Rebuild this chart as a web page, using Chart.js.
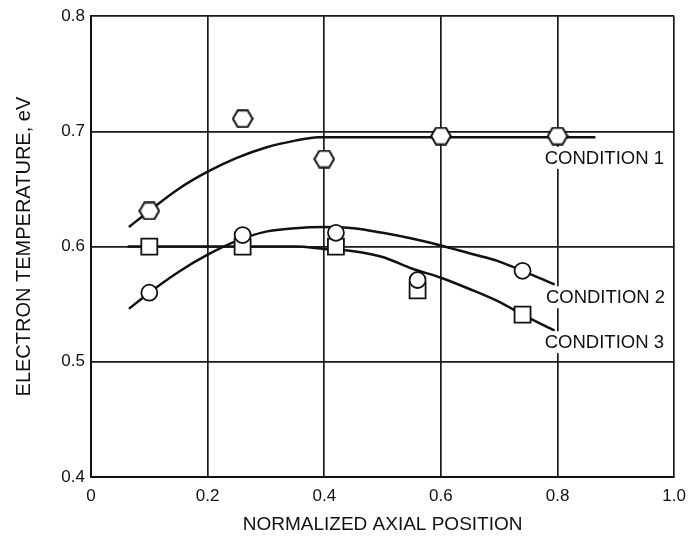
<!DOCTYPE html>
<html>
<head>
<meta charset="utf-8">
<script src="https://cdn.jsdelivr.net/npm/chart.js@4.4.1/dist/chart.umd.min.js"></script>
<style>
  html, body { margin: 0; padding: 0; background: #fff; }
  #wrap { width: 695px; height: 536px; }
</style>
</head>
<body>
<div id="wrap"><canvas id="c" width="695" height="536"></canvas></div>
<script>
// ---- Data ----
const cond1X = [0.10, 0.26, 0.40, 0.60, 0.80];
const cond1Y = [0.631, 0.711, 0.676, 0.696, 0.696];
const cond2X = [0.10, 0.26, 0.42, 0.56, 0.74];
const cond2Y = [0.560, 0.610, 0.612, 0.571, 0.579];
const cond3X = [0.10, 0.26, 0.42, 0.56, 0.74];
const cond3Y = [0.600, 0.600, 0.600, 0.562, 0.541];

// fitted curves drawn in the reference
const fit1X = [0.065, 0.10, 0.15, 0.20, 0.25, 0.30, 0.35, 0.39, 0.50, 0.60, 0.70, 0.865];
const fit1Y = [0.617, 0.631, 0.650, 0.665, 0.677, 0.686, 0.692, 0.695, 0.695, 0.695, 0.695, 0.695];
const fit2X = [0.065, 0.10, 0.15, 0.20, 0.25, 0.30, 0.35, 0.40, 0.45, 0.50, 0.55, 0.60, 0.65, 0.70, 0.74, 0.795];
const fit2Y = [0.546, 0.560, 0.578, 0.593, 0.605, 0.613, 0.616, 0.617, 0.616, 0.612, 0.607, 0.601, 0.594, 0.587, 0.579, 0.567];
const fit3X = [0.063, 0.10, 0.20, 0.30, 0.35, 0.40, 0.45, 0.50, 0.55, 0.60, 0.65, 0.70, 0.74, 0.795];
const fit3Y = [0.600, 0.600, 0.600, 0.600, 0.600, 0.598, 0.596, 0.591, 0.581, 0.573, 0.563, 0.552, 0.541, 0.527];

const labelText = ["CONDITION 1", "CONDITION 2", "CONDITION 3"];
const labelX = [0.778, 0.780, 0.778];
const labelY = [0.677, 0.556, 0.517];

const xTitle = "NORMALIZED AXIAL POSITION";
const yTitle = "ELECTRON TEMPERATURE, eV";

const FONT = "'Liberation Sans', Arial, sans-serif";

function pts(xs, ys) { return xs.map((x, i) => ({ x: x, y: ys[i] })); }

// hexagon marker image
function hexImage() {
  const w = 22, h = 19;
  const cv = document.createElement('canvas');
  cv.width = w; cv.height = h;
  const ctx = cv.getContext('2d');
  ctx.beginPath();
  ctx.moveTo(1.2, h / 2);
  ctx.lineTo(6, 1.2);
  ctx.lineTo(w - 6, 1.2);
  ctx.lineTo(w - 1.2, h / 2);
  ctx.lineTo(w - 6, h - 1.2);
  ctx.lineTo(6, h - 1.2);
  ctx.closePath();
  ctx.fillStyle = '#fff';
  ctx.fill();
  ctx.lineWidth = 2;
  ctx.strokeStyle = '#111';
  ctx.stroke();
  return cv;
}

const curveStyle = {
  showLine: true, borderColor: '#111', borderWidth: 2.5, pointRadius: 0,
  cubicInterpolationMode: 'monotone', fill: false, order: 10
};

const labelPlugin = {
  id: 'condLabels',
  afterDatasetsDraw(chart) {
    const ctx = chart.ctx;
    const xs = chart.scales.x, ys = chart.scales.y;
    ctx.save();
    ctx.font = "18.5px " + FONT;
    ctx.textBaseline = 'middle';
    ctx.textAlign = 'left';
    labelText.forEach((t, i) => {
      const px = xs.getPixelForValue(labelX[i]);
      const py = ys.getPixelForValue(labelY[i]);
      const w = ctx.measureText(t).width;
      ctx.fillStyle = '#fff';
      ctx.fillRect(px - 2, py - 11, w + 4, 22);
      ctx.fillStyle = '#111';
      ctx.fillText(t, px, py + 1);
    });
    ctx.restore();
  }
};

new Chart(document.getElementById('c'), {
  type: 'scatter',
  data: {
    datasets: [
      Object.assign({ label: 'fit1', data: pts(fit1X, fit1Y) }, curveStyle),
      Object.assign({ label: 'fit2', data: pts(fit2X, fit2Y) }, curveStyle),
      Object.assign({ label: 'fit3', data: pts(fit3X, fit3Y) }, curveStyle),
      { label: 'Condition 3', data: pts(cond3X, cond3Y), pointStyle: 'rect', pointRadius: 11.3,
        backgroundColor: '#fff', borderColor: '#111', borderWidth: 1.8, order: 3 },
      { label: 'Condition 2', data: pts(cond2X, cond2Y), pointStyle: 'circle', pointRadius: 8,
        backgroundColor: '#fff', borderColor: '#111', borderWidth: 1.8, order: 2 },
      { label: 'Condition 1', data: pts(cond1X, cond1Y), pointStyle: hexImage(),
        backgroundColor: '#fff', borderColor: '#111', order: 1 }
    ]
  },
  options: {
    responsive: false,
    animation: false,
    devicePixelRatio: 1,
    layout: { padding: { left: 0, right: 18, top: 9, bottom: 0 } },
    plugins: { legend: { display: false }, tooltip: { enabled: false } },
    scales: {
      x: {
        type: 'linear', min: 0, max: 1.0,
        afterFit(s) { s.height = 59; },
        grid: { color: '#1a1a1a', lineWidth: 1.7, drawTicks: false },
        border: { color: '#111', width: 2 },
        ticks: {
          stepSize: 0.2, padding: 9, color: '#111',
          font: { family: FONT, size: 17 },
          callback: v => (Math.abs(v) < 1e-9 ? '0' : v.toFixed(1))
        },
        title: { display: true, text: xTitle, color: '#111', font: { family: FONT, size: 19 }, padding: { top: 4, bottom: 0 } }
      },
      y: {
        type: 'linear', min: 0.4, max: 0.8,
        afterFit(s) { s.width = 91; },
        grid: { color: '#1a1a1a', lineWidth: 1.7, drawTicks: false },
        border: { color: '#111', width: 2 },
        ticks: {
          stepSize: 0.1, padding: 6, color: '#111',
          font: { family: FONT, size: 17 },
          callback: v => v.toFixed(1)
        },
        title: { display: true, text: yTitle, color: '#111', font: { family: FONT, size: 20 }, padding: { top: 12, bottom: 0 } }
      }
    }
  },
  plugins: [labelPlugin]
});
</script>
</body>
</html>
